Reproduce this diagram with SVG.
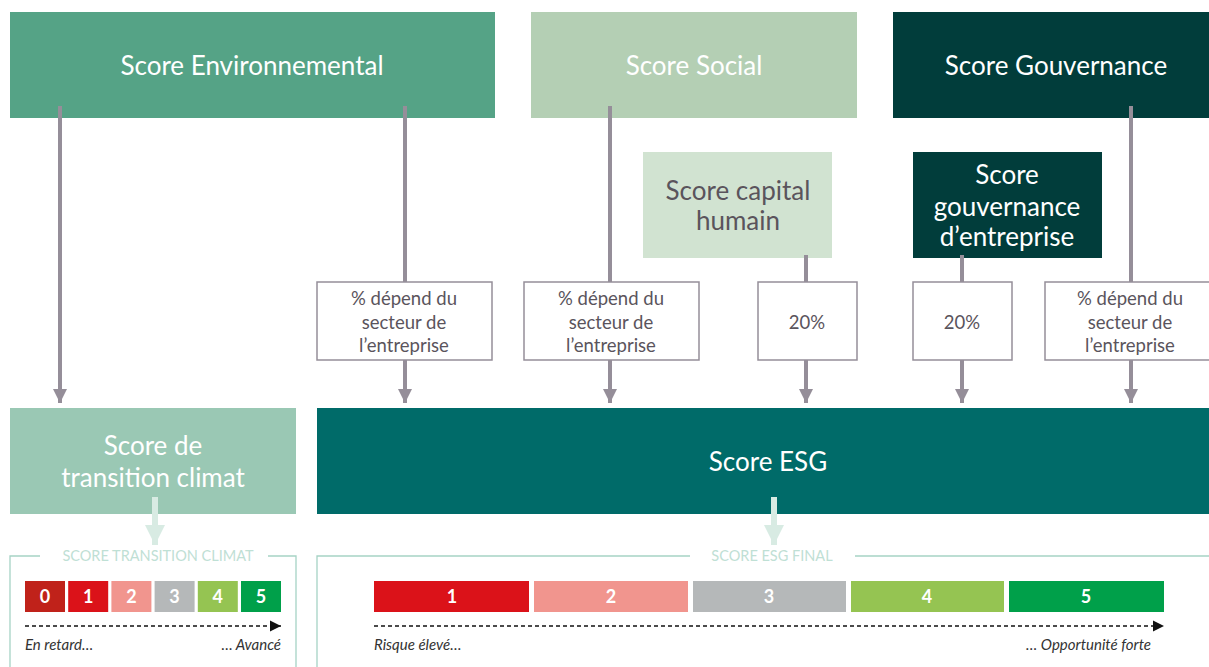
<svg xmlns="http://www.w3.org/2000/svg" width="1209" height="667" viewBox="0 0 1209 667">
<defs>
<style>
text{font-family:Lato,"Open Sans","Liberation Sans",sans-serif}
.big{font-size:26px;fill:#fff;text-anchor:middle}
.dark{fill:#5a545c}
.pct{font-size:18.5px;fill:#5a545c;text-anchor:middle}
.wbox{fill:#fff;stroke:#958e99;stroke-width:1.5}
.conn{stroke:#958e99;stroke-width:4;fill:none}
.light{stroke:#d8ebe3;stroke-width:6;fill:none}
.frame{stroke:#a6d3c5;stroke-width:1.3;fill:none}
.flabel{font-size:14.5px;fill:#bfe0d5;text-anchor:middle}
.num{font-size:18px;font-weight:bold;fill:#fff;text-anchor:middle}
.cap{font-size:15px;font-style:italic;fill:#333}
.dash{stroke:#111;stroke-width:1.4;stroke-dasharray:4 3;fill:none}
</style>
<marker id="ah" viewBox="0 0 10 10" refX="10" refY="5" markerWidth="3.6" markerHeight="3.6" orient="auto" markerUnits="strokeWidth"><path d="M0,0L10,5L0,10z" fill="#958e99"/></marker>
<marker id="al" viewBox="0 0 10 10" refX="10" refY="5" markerWidth="3.4" markerHeight="3.4" orient="auto" markerUnits="strokeWidth"><path d="M0,0L10,5L0,10z" fill="#d8ebe3"/></marker>
<marker id="ab" viewBox="0 0 10 10" refX="10" refY="5" markerWidth="8" markerHeight="8" orient="auto" markerUnits="strokeWidth"><path d="M0,0L10,5L0,10z" fill="#111"/></marker>
</defs>
<rect width="1209" height="667" fill="#fff"/>

<g id="env"><rect x="10" y="12" width="485" height="106" fill="#55a386"/><text class="big" x="252" y="75">Score Environnemental</text></g>
<g id="social"><rect x="531" y="12" width="326" height="106" fill="#b4cfb4"/><text class="big" x="694" y="75">Score Social</text></g>
<g id="gouv"><rect x="893" y="12" width="316" height="106" fill="#013d3b"/><text class="big" x="1056" y="75">Score Gouvernance</text></g>
<g id="capital"><rect x="643" y="152" width="189" height="106" fill="#d1e3d1"/><text class="big dark" x="738" y="200">Score capital</text><text class="big dark" x="738" y="230">humain</text></g>
<g id="gouvent"><rect x="913" y="152" width="189" height="106" fill="#013d3b"/><text class="big" x="1007" y="184">Score</text><text class="big" x="1007" y="216">gouvernance</text><text class="big" x="1007" y="246">d’entreprise</text></g>

<g id="connectors">
<line class="conn" x1="60" y1="106" x2="60" y2="403" marker-end="url(#ah)"/>
<line class="conn" x1="405" y1="106" x2="405" y2="282"/>
<line class="conn" x1="405" y1="360" x2="405" y2="403" marker-end="url(#ah)"/>
<line class="conn" x1="610" y1="106" x2="610" y2="282"/>
<line class="conn" x1="610" y1="360" x2="610" y2="403" marker-end="url(#ah)"/>
<line class="conn" x1="806" y1="255" x2="806" y2="282"/>
<line class="conn" x1="806" y1="360" x2="806" y2="403" marker-end="url(#ah)"/>
<line class="conn" x1="962" y1="255" x2="962" y2="282"/>
<line class="conn" x1="962" y1="360" x2="962" y2="403" marker-end="url(#ah)"/>
<line class="conn" x1="1131" y1="106" x2="1131" y2="282"/>
<line class="conn" x1="1131" y1="360" x2="1131" y2="403" marker-end="url(#ah)"/>
<line class="light" x1="155" y1="497" x2="155" y2="545" marker-end="url(#al)"/>
<line class="light" x1="774" y1="497" x2="774" y2="545" marker-end="url(#al)"/>
</g>

<g id="w1"><rect class="wbox" x="317" y="282" width="175" height="78"/><text class="pct" x="404" y="305">% dépend du</text><text class="pct" x="404" y="329">secteur de</text><text class="pct" x="404" y="352">l’entreprise</text></g>
<g id="w2"><rect class="wbox" x="524" y="282" width="175" height="78"/><text class="pct" x="611" y="305">% dépend du</text><text class="pct" x="611" y="329">secteur de</text><text class="pct" x="611" y="352">l’entreprise</text></g>
<g id="w3"><rect class="wbox" x="758" y="282" width="99" height="78"/><text class="pct" x="807" y="329">20%</text></g>
<g id="w4"><rect class="wbox" x="913" y="282" width="99" height="78"/><text class="pct" x="962" y="329">20%</text></g>
<g id="w5"><rect class="wbox" x="1045" y="282" width="166" height="78"/><text class="pct" x="1130" y="305">% dépend du</text><text class="pct" x="1130" y="329">secteur de</text><text class="pct" x="1130" y="352">l’entreprise</text></g>

<g id="climat"><rect x="10" y="408" width="286" height="106" fill="#9ac8b4"/><text class="big" x="153" y="455">Score de</text><text class="big" x="153" y="487">transition climat</text></g>
<g id="esg"><rect x="317" y="408" width="892" height="106" fill="#006b69"/><text class="big" x="768" y="471">Score ESG</text></g>
<line class="light" x1="155" y1="497" x2="155" y2="514"/>
<line class="light" x1="774" y1="497" x2="774" y2="514"/>

<g id="panel-climat">
<path class="frame" d="M40,556H10V667M268,556H296V667"/>
<text class="flabel" x="158" y="561">SCORE TRANSITION CLIMAT</text>
<rect x="25" y="581" width="40" height="31" fill="#c0221a"/><text class="num" x="45" y="603">0</text>
<rect x="68.2" y="581" width="40" height="31" fill="#db1219"/><text class="num" x="88.2" y="603">1</text>
<rect x="111.4" y="581" width="40" height="31" fill="#f1958e"/><text class="num" x="131.4" y="603">2</text>
<rect x="154.6" y="581" width="40" height="31" fill="#b5b8b9"/><text class="num" x="174.6" y="603">3</text>
<rect x="197.8" y="581" width="40" height="31" fill="#95c452"/><text class="num" x="217.8" y="603">4</text>
<rect x="241" y="581" width="40" height="31" fill="#00a04a"/><text class="num" x="261" y="603">5</text>
<line class="dash" x1="25" y1="626" x2="281" y2="626" marker-end="url(#ab)"/>
<text class="cap" x="25" y="650">En retard…</text>
<text class="cap" x="281" y="650" text-anchor="end">… Avancé</text>
</g>

<g id="panel-esg">
<path class="frame" d="M690,556H317V667M855,556H1209"/>
<text class="flabel" x="772" y="561">SCORE ESG FINAL</text>
<rect x="374" y="581" width="155" height="31" fill="#db1219"/><text class="num" x="452" y="603">1</text>
<rect x="534" y="581" width="154" height="31" fill="#f1958e"/><text class="num" x="611" y="603">2</text>
<rect x="693" y="581" width="153" height="31" fill="#b5b8b9"/><text class="num" x="769" y="603">3</text>
<rect x="851" y="581" width="153" height="31" fill="#95c452"/><text class="num" x="927" y="603">4</text>
<rect x="1009" y="581" width="155" height="31" fill="#00a04a"/><text class="num" x="1086" y="603">5</text>
<line class="dash" x1="374" y1="626" x2="1164" y2="626" marker-end="url(#ab)"/>
<text class="cap" x="374" y="650">Risque élevé…</text>
<text class="cap" x="1151" y="650" text-anchor="end">… Opportunité forte</text>
</g>
</svg>
